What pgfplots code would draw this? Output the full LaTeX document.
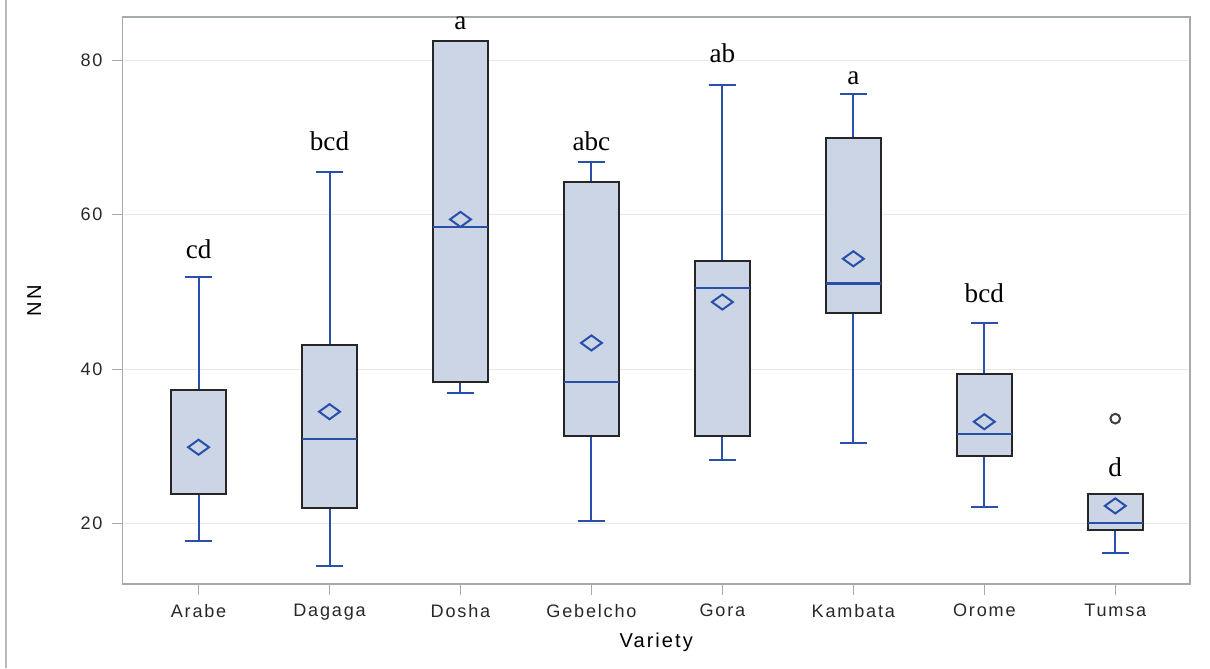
\documentclass[border=0pt]{standalone}
\usepackage{pgfplots}
\pgfplotsset{compat=1.18}
\usepgfplotslibrary{statistics}
\usepackage{fontspec}
\setmainfont{Liberation Sans}[LetterSpace=10]
\newfontfamily\seriffont{Liberation Serif}
\definecolor{boxfill}{RGB}{203,213,229}
\definecolor{sasblue}{RGB}{40,80,170}
\definecolor{gridc}{RGB}{232,232,232}
\definecolor{framec}{RGB}{165,170,176}
\definecolor{labc}{RGB}{40,40,40}
\pgfdeclareplotmark{wdiamond}{%
  \pgfpathmoveto{\pgfqpoint{\pgfplotmarksize}{0pt}}%
  \pgfpathlineto{\pgfqpoint{0pt}{0.72\pgfplotmarksize}}%
  \pgfpathlineto{\pgfqpoint{-\pgfplotmarksize}{0pt}}%
  \pgfpathlineto{\pgfqpoint{0pt}{-0.72\pgfplotmarksize}}%
  \pgfpathclose
  \pgfusepathqstroke}
\begin{document}
\begin{tikzpicture}
\begin{axis}[
  name=ax,
  scale only axis,
  width=531pt, height=282pt,
  xmin=-0.58, xmax=7.57,
  ymin=12.2, ymax=85.6,
  xtick={0,1,2,3,4,5,6,7},
  xticklabels={Arabe,Dagaga,Dosha,Gebelcho,Gora,Kambata,Orome,Tumsa},
  ytick={20,40,60,80},
  tick pos=left,
  tick align=outside,
  major tick length=5.5pt,
  tick style={draw=framec, line width=0.6pt},
  axis line style={draw=framec, line width=0.8pt},
  ymajorgrids,
  grid style={draw=gridc, line width=0.6pt},
  /pgf/number format/assume math mode=true,
  tick label style={font=\fontsize{9}{10}\selectfont, text=labc},
  xticklabel style={yshift=-1pt},
  yticklabel style={xshift=-1pt},
  xlabel={Variety},
  ylabel={NN},
  label style={font=\fontsize{10.5}{12}\selectfont, text=labc},
  every axis x label/.style={at={(rel axis cs:0.5,0)}, anchor=center, yshift=-29pt},
  every axis y label/.style={at={(rel axis cs:0,0.5)}, anchor=center, rotate=90, yshift=44pt},
  boxplot/draw direction=y,
  boxplot/box extend=0.42,
  boxplot/whisker extend=0.21,
  boxplot/every box/.style={draw=black!85, fill=boxfill, line width=1pt},
  boxplot/every whisker/.style={draw=sasblue, line width=1pt},
  boxplot/every median/.style={draw=sasblue, line width=1pt},
  boxplot/every average/.style={/tikz/mark=wdiamond, /tikz/mark size=5.2pt, draw=sasblue, line width=1pt},
  clip=false,
]
% Arabe
\addplot[color=sasblue, line width=1pt, boxplot/every median/.style={draw=none}, boxplot prepared={draw position=0, lower whisker=17.7, lower quartile=23.9, median=23.9, upper quartile=37.3, upper whisker=51.9, average=29.9}] coordinates {};
% Dagaga
\addplot[color=sasblue, line width=1pt, boxplot prepared={draw position=1, lower whisker=14.5, lower quartile=22.0, median=31.0, upper quartile=43.1, upper whisker=65.5, average=34.5}] coordinates {};
% Dosha
\addplot[color=sasblue, line width=1pt, boxplot prepared={draw position=2, lower whisker=36.9, lower quartile=38.3, median=58.4, upper quartile=82.5, upper whisker=82.5, average=59.4}] coordinates {};
% Gebelcho
\addplot[color=sasblue, line width=1pt, boxplot prepared={draw position=3, lower whisker=20.3, lower quartile=31.4, median=38.4, upper quartile=64.3, upper whisker=66.8, average=43.4}] coordinates {};
% Gora
\addplot[color=sasblue, line width=1pt, boxplot prepared={draw position=4, lower whisker=28.3, lower quartile=31.3, median=50.5, upper quartile=54.0, upper whisker=76.8, average=48.7}] coordinates {};
% Kambata
\addplot[color=sasblue, line width=1pt, boxplot prepared={draw position=5, lower whisker=30.4, lower quartile=47.3, median=51.1, upper quartile=70.0, upper whisker=75.6, average=54.3}] coordinates {};
% Orome
\addplot[color=sasblue, line width=1pt, boxplot prepared={draw position=6, lower whisker=22.1, lower quartile=28.8, median=31.6, upper quartile=39.4, upper whisker=46.0, average=33.2}] coordinates {};
% Tumsa
\addplot[color=sasblue, line width=1pt, mark=o, mark size=2.4pt, mark options={draw=black!75}, boxplot prepared={draw position=7, lower whisker=16.2, lower quartile=19.2, median=20.1, upper quartile=23.8, upper whisker=23.8, average=22.3}] coordinates {(7,33.6)};
% letters
\begin{scope}[every node/.style={font=\seriffont\fontsize{13.5}{14}\selectfont, text=black, anchor=base, inner sep=0pt}]
\node at (axis cs:0,54.3) {cd};
\node at (axis cs:1,68.3) {bcd};
\node at (axis cs:2,84.0) {a};
\node at (axis cs:3,68.3) {abc};
\node at (axis cs:4,79.7) {ab};
\node at (axis cs:5,76.9) {a};
\node at (axis cs:6,48.6) {bcd};
\node at (axis cs:7,26.1) {d};
\end{scope}
\end{axis}
\draw[draw=gridc!80!black, line width=0.8pt] ([xshift=-58pt,yshift=-42pt]ax.south west) -- ([xshift=-58pt,yshift=8.5pt]ax.north west);
\pgfresetboundingbox
\path[use as bounding box] ([xshift=-61pt,yshift=-42pt]ax.south west) rectangle ([xshift=10pt,yshift=8.5pt]ax.north east);
\end{tikzpicture}
\end{document}
